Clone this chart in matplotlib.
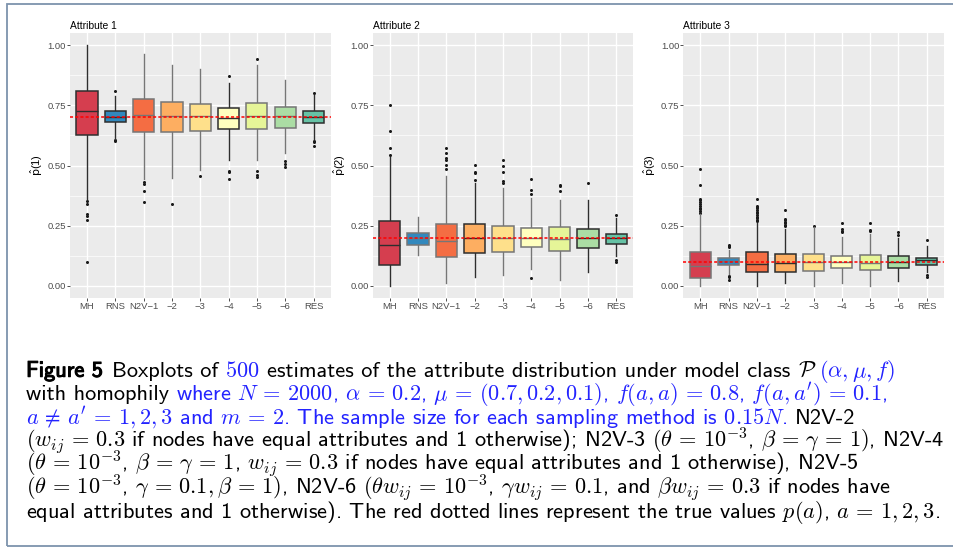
import numpy as np
import matplotlib
matplotlib.use('Agg')
from matplotlib import pyplot as plt
from matplotlib import patheffects
from matplotlib.patches import Rectangle

plt.rcParams['font.family'] = ['Liberation Sans', 'DejaVu Sans']

methods = ['MH', 'RNS', 'N2V\u22121', '\u22122', '\u22123', '\u22124', '\u22125', '\u22126', 'RES']
true_p = [0.7, 0.2, 0.1]

# attribute 1
a1_lo = [0.36, 0.611, 0.444, 0.447, 0.483, 0.521, 0.521, 0.553, 0.611]
a1_q1 = [0.628, 0.681, 0.639, 0.639, 0.642, 0.653, 0.653, 0.657, 0.678]
a1_med = [0.728, 0.703, 0.708, 0.706, 0.706, 0.699, 0.706, 0.704, 0.703]
a1_q3 = [0.808, 0.728, 0.778, 0.764, 0.757, 0.739, 0.761, 0.743, 0.725]
a1_hi = [1.0, 0.79, 0.961, 0.919, 0.9, 0.844, 0.917, 0.853, 0.792]
a1_out = [[0.354, 0.34, 0.299, 0.289, 0.275, 0.101], [0.808, 0.604, 0.60],
          [0.433, 0.424, 0.396, 0.35], [0.34], [0.456], [0.872, 0.478, 0.472, 0.444],
          [0.942, 0.476, 0.461, 0.451], [0.517, 0.507, 0.493], [0.801, 0.603, 0.597, 0.581]]

# attribute 2
a2_lo = [0.0, 0.128, 0.014, 0.036, 0.047, 0.069, 0.024, 0.056, 0.125]
a2_q1 = [0.086, 0.172, 0.122, 0.136, 0.142, 0.161, 0.147, 0.156, 0.175]
a2_med = [0.172, 0.197, 0.186, 0.197, 0.197, 0.200, 0.194, 0.200, 0.197]
a2_q3 = [0.268, 0.219, 0.256, 0.256, 0.250, 0.242, 0.244, 0.236, 0.217]
a2_hi = [0.535, 0.285, 0.455, 0.426, 0.406, 0.367, 0.356, 0.357, 0.281]
a2_out = [[0.753, 0.642, 0.574, 0.542], [], [0.574, 0.551, 0.531, 0.521, 0.503, 0.486],
          [0.504, 0.474, 0.468, 0.439], [0.524, 0.497, 0.474, 0.435, 0.429],
          [0.444, 0.399, 0.382, 0.033], [0.421, 0.413, 0.396], [0.428], [0.294, 0.106, 0.100]]

# attribute 3
a3_lo = [0.0, 0.05, 0.0, 0.011, 0.0, 0.011, 0.0, 0.021, 0.056]
a3_q1 = [0.033, 0.086, 0.058, 0.058, 0.064, 0.076, 0.067, 0.075, 0.086]
a3_med = [0.081, 0.103, 0.090, 0.094, 0.100, 0.100, 0.097, 0.100, 0.106]
a3_q3 = [0.139, 0.114, 0.139, 0.132, 0.133, 0.125, 0.128, 0.125, 0.118]
a3_hi = [0.298, 0.150, 0.260, 0.236, 0.243, 0.205, 0.215, 0.200, 0.165]
a3_out = [[0.486, 0.421, 0.362, 0.355, 0.348, 0.340, 0.333, 0.325, 0.318, 0.31, 0.303],
          [0.172, 0.166, 0.160, 0.042, 0.036, 0.025],
          [0.361, 0.333, 0.328, 0.322, 0.316, 0.309, 0.302, 0.295, 0.288, 0.281, 0.275, 0.268],
          [0.317, 0.278, 0.272, 0.266, 0.26, 0.254, 0.248], [0.25], [0.26, 0.236, 0.228, 0.222],
          [0.26, 0.233, 0.228], [0.222, 0.211], [0.192, 0.044, 0.036]]

panels = [
    ('Attribute 1', '1', a1_lo, a1_q1, a1_med, a1_q3, a1_hi, a1_out),
    ('Attribute 2', '2', a2_lo, a2_q1, a2_med, a2_q3, a2_hi, a2_out),
    ('Attribute 3', '3', a3_lo, a3_q1, a3_med, a3_q3, a3_hi, a3_out),
]

fills = ['#D53E4F', '#3288BD', '#F46D43', '#FDAE61', '#FEE08B', '#FFFFBF', '#E6F598', '#ABDDA4', '#66C2A5']
dark, grey = '#2e2e2e', '#767676'
line_shades = [
    [dark, dark, grey, grey, grey, dark, grey, grey, dark],
    [dark, grey, grey, dark, grey, grey, grey, dark, dark],
    [grey, grey, dark, dark, grey, grey, grey, dark, dark],
]

W, H = 954, 548
fig = plt.figure(figsize=(W / 100, H / 100), dpi=100)
fig.patch.set_facecolor('white')

lefts = [70, 372.7, 683.3]
top, bottom, width = 33, 298, 260.5

for k, (title, idx, lo, q1, med, q3, hi, out) in enumerate(panels):
    ax = fig.add_axes([lefts[k] / W, 1 - bottom / H, width / W, (bottom - top) / H])
    ax.set_facecolor('#EBEBEB')
    for s in ax.spines.values():
        s.set_visible(False)
    ax.set_xlim(0.4, 9.6)
    ax.set_ylim(-0.05, 1.05)
    ax.set_yticks([0, 0.25, 0.5, 0.75, 1.0])
    ax.set_yticklabels(['0.00', '0.25', '0.50', '0.75', '1.00'])
    ax.set_yticks([0.125, 0.375, 0.625, 0.875], minor=True)
    ax.grid(which='major', color='white', lw=1.0)
    ax.grid(which='minor', axis='y', color='white', lw=0.5)
    ax.set_axisbelow(True)
    ax.tick_params(which='minor', length=0)
    ax.tick_params(which='major', length=2.1, width=0.6, color='#333333',
                   labelcolor='#4D4D4D', labelsize=6.8)
    ax.tick_params(axis='y', pad=0.8)
    ax.tick_params(axis='x', pad=0.6)

    stats = [dict(whislo=lo[i], q1=q1[i], med=med[i], q3=q3[i], whishi=hi[i], fliers=out[i])
             for i in range(len(methods))]
    art = ax.bxp(stats, positions=np.arange(1, 10), widths=0.75, patch_artist=True,
                 showcaps=False, manage_ticks=False,
                 flierprops=dict(marker='o', markersize=2.2, markerfacecolor='#1a1a1a',
                                 markeredgecolor='none'))
    shades = line_shades[k]
    for i, box in enumerate(art['boxes']):
        box.set(facecolor=fills[i], edgecolor=shades[i], linewidth=1.1, zorder=3)
        art['medians'][i].set(color=shades[i], linewidth=1.0, zorder=4)
        for wk in art['whiskers'][2 * i:2 * i + 2]:
            wk.set(color=shades[i], linewidth=1.0, zorder=2.5)
    ax.set_xticks(np.arange(1, 10))
    ax.set_xticklabels(methods)

    ax.axhline(true_p[k], color='#FF0000', ls=(0, (2.0, 1.4)), lw=1.1, zorder=6)

    fig.text(lefts[k] / W, 1 - 29 / H, title, fontsize=7.4, color='black', va='baseline', ha='left')
    fig.text((lefts[k] - 33) / W, 1 - 165.5 / H, r'$\hat{\mathrm{p}}$(' + idx + ')', rotation=90,
             fontsize=8.0, color='black', ha='center', va='center', math_fontfamily='dejavusans')

# page frame around figure and caption
frame = Rectangle((7.5 / W, 1 - 546 / H), 1.0, (546 - 3.5) / H, transform=fig.transFigure,
                  fill=False, edgecolor='#7d93ad', linewidth=1.3)
fig.add_artist(frame)


def widen(s):
    # TeX-like spacing around relations inside the math parts
    parts = s.split('$')
    for j in range(1, len(parts), 2):
        parts[j] = parts[j].replace(r'\neq', r'\,\neq\,').replace('=', r'\,=\,')
    return '$'.join(parts)


blue = '#2323FF'
caption_lines = [
    [('Figure 5', 'black', True, 1.2), ('Boxplots of', 'black', False, 1), ('$500$', blue, False, 1),
     ('estimates of the attribute distribution under model class', 'black', False, 1),
     (r'$\mathcal{P}$', 'black', False, 0.3), (r'$(\alpha,\mu,f)$', blue, False, 0)],
    [('with homophily', 'black', False, 1),
     (r"where $N=2000$, $\alpha=0.2$, $\mu=(0.7,0.2,0.1)$, $f(a,a)=0.8$, $f(a,a')=0.1$,", blue, False, 0)],
    [(r"$a\neq a'=1,2,3$ and $m=2$. The sample size for each sampling method is $0.15N$.", blue, False, 1),
     ('N2V-2', 'black', False, 0)],
    [(r'$(w_{ij}=0.3$ if nodes have equal attributes and 1 otherwise); N2V-3 $(\theta=10^{-3}$, '
      r'$\beta=\gamma=1)$, N2V-4', 'black', False, 0)],
    [(r'$(\theta=10^{-3}$, $\beta=\gamma=1$, $w_{ij}=0.3$ if nodes have equal attributes and 1 '
      r'otherwise), N2V-5', 'black', False, 0)],
    [(r'$(\theta=10^{-3}$, $\gamma=0.1,\beta=1)$, N2V-6 $(\theta w_{ij}=10^{-3}$, $\gamma w_{ij}=0.1$, '
      r'and $\beta w_{ij}=0.3$ if nodes have', 'black', False, 0)],
    [(r'equal attributes and 1 otherwise). The red dotted lines represent the true values $p(a)$, '
      r'$a=1,2,3$.', 'black', False, 0)],
]

cap_size = 16.1
space_px = 0.333 * cap_size * 100 / 72
renderer = fig.canvas.get_renderer()
for n, line in enumerate(caption_lines):
    x = 26
    y = 376.7 + n * 23.6
    for txt, col, bold, gap in line:
        t = fig.text(x / W, 1 - y / H, widen(txt), color=col, fontsize=cap_size, family='cmss10',
                     math_fontfamily='cm', ha='left', va='baseline')
        if bold:
            t.set_path_effects([patheffects.withStroke(linewidth=0.8, foreground=col)])
        x += t.get_window_extent(renderer).width + gap * space_px

fig.savefig('out.png', dpi=100, facecolor='white')
